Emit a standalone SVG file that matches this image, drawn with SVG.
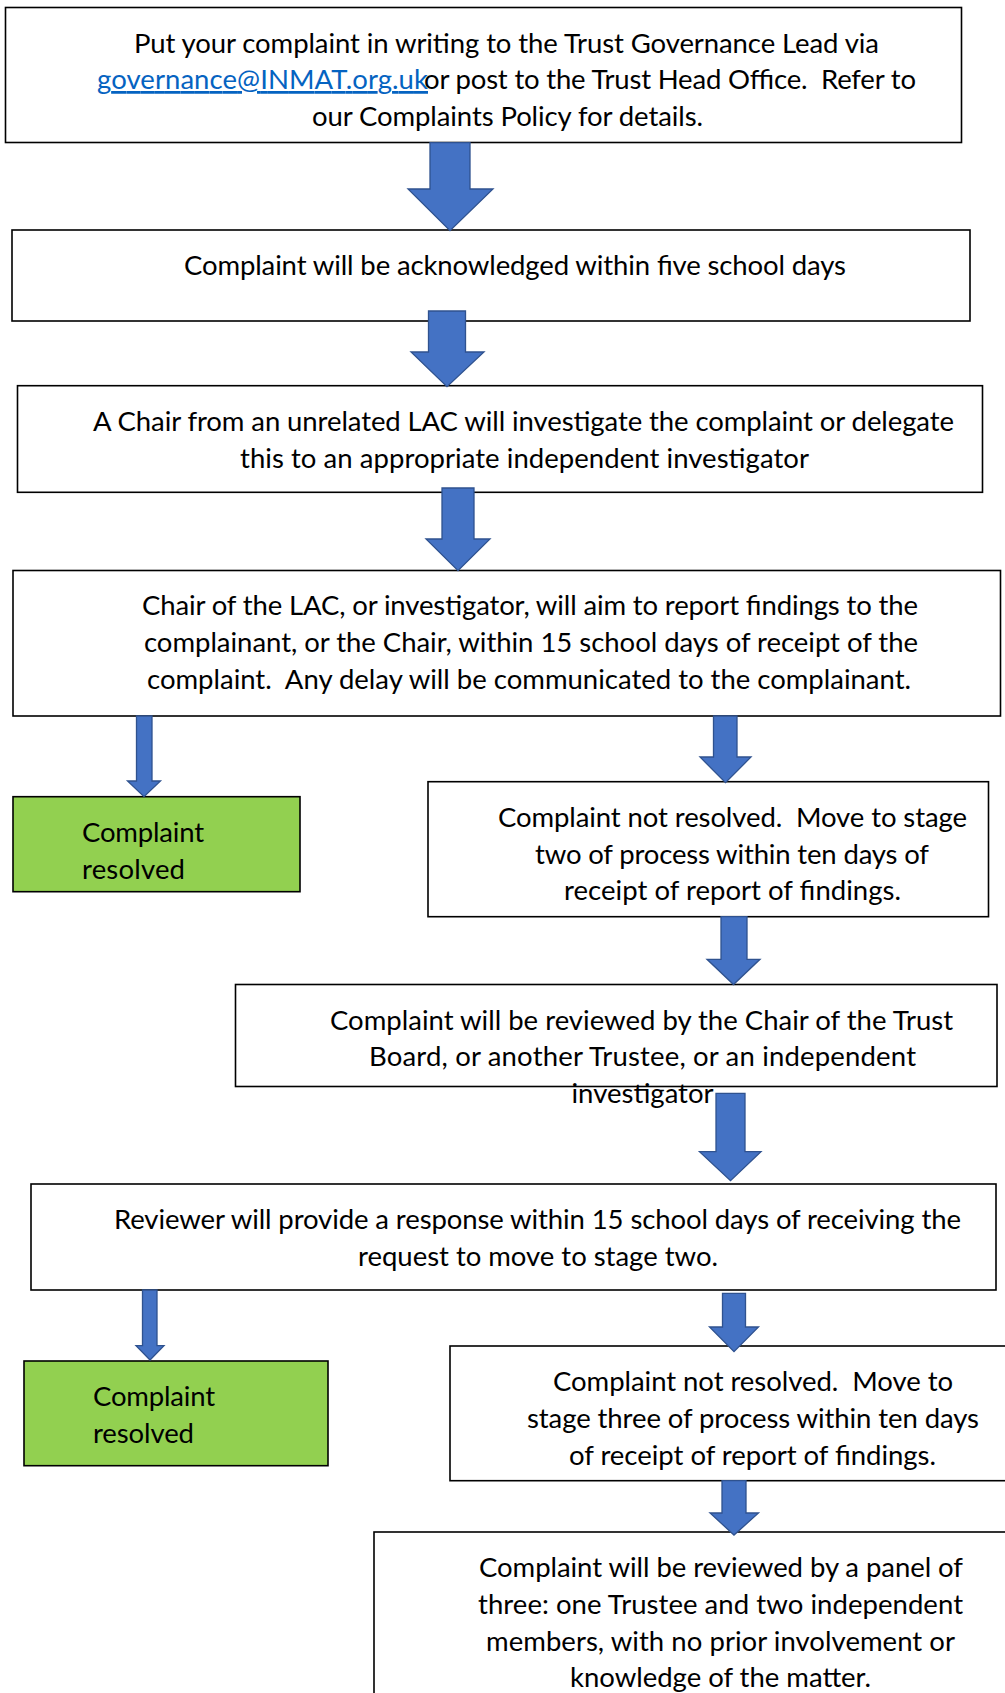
<svg xmlns="http://www.w3.org/2000/svg" width="1005" height="1693" viewBox="0 0 1005 1693">
<style>
.box{fill:#ffffff;stroke:#000000;stroke-width:1.6}
.green{fill:#92D050;stroke:#000000;stroke-width:1.6}
.arr{fill:#4472C4;stroke:#2F528F;stroke-width:1.3;stroke-linejoin:miter}
text{font-family:Lato,"Carlito","Liberation Sans",sans-serif;font-size:27.5px;fill:#000000;white-space:pre}
.link{fill:#0563C1;text-decoration:underline}
</style>
<rect x="0" y="0" width="1005" height="1693" fill="#ffffff"/>
<g id="node1">
<rect class="box" x="5.5" y="7.5" width="956" height="135"/>
<text x="134" y="52.5" textLength="745">Put your complaint in writing to the Trust Governance Lead via</text>
<text class="link" x="97" y="89" textLength="331">governance@INMAT.org.uk</text>
<text x="424" y="89" textLength="492" xml:space="preserve">or post to the Trust Head Office.  Refer to</text>
<text x="312" y="125.5" textLength="391">our Complaints Policy for details.</text>
</g>
<g id="node2">
<rect class="box" x="12" y="230" width="958" height="91"/>
<text x="184" y="275" textLength="662">Complaint will be acknowledged within five school days</text>
</g>
<g id="node3">
<rect class="box" x="17.5" y="385.7" width="965" height="106.6"/>
<text x="93" y="430.5" textLength="861">A Chair from an unrelated LAC will investigate the complaint or delegate</text>
<text x="240" y="467.5" textLength="569">this to an appropriate independent investigator</text>
</g>
<g id="node4">
<rect class="box" x="13" y="570.5" width="987.5" height="145.5"/>
<text x="142" y="615" textLength="776">Chair of the LAC, or investigator, will aim to report findings to the</text>
<text x="144" y="651.5" textLength="774">complainant, or the Chair, within 15 school days of receipt of the</text>
<text x="147" y="688.5" textLength="764" xml:space="preserve">complaint.  Any delay will be communicated to the complainant.</text>
</g>
<g id="node5">
<rect class="green" x="13" y="796.7" width="287" height="95"/>
<text x="82" y="841.5" textLength="122">Complaint</text>
<text x="82" y="878.5" textLength="103">resolved</text>
</g>
<g id="node6">
<rect class="box" x="428" y="781.7" width="560.5" height="135"/>
<text x="498" y="826.5" textLength="469" xml:space="preserve">Complaint not resolved.  Move to stage</text>
<text x="535" y="863.5" textLength="394">two of process within ten days of</text>
<text x="564" y="900" textLength="337">receipt of report of findings.</text>
</g>
<g id="node7">
<rect class="box" x="235.5" y="984.5" width="761.5" height="102"/>
<text x="330" y="1029.5" textLength="623">Complaint will be reviewed by the Chair of the Trust</text>
<text x="369" y="1066" textLength="547">Board, or another Trustee, or an independent</text>
<text x="571.5" y="1102.5" textLength="142">investigator</text>
</g>
<g id="node8">
<rect class="box" x="31" y="1184" width="965" height="106"/>
<text x="114" y="1229" textLength="847">Reviewer will provide a response within 15 school days of receiving the</text>
<text x="358" y="1265.5" textLength="360">request to move to stage two.</text>
</g>
<g id="node9">
<rect class="green" x="24" y="1361" width="304" height="104.7"/>
<text x="93" y="1406" textLength="122">Complaint</text>
<text x="93" y="1442.5" textLength="101">resolved</text>
</g>
<g id="node10">
<rect class="box" x="450" y="1346" width="570" height="134.7"/>
<text x="553" y="1391" textLength="400" xml:space="preserve">Complaint not resolved.  Move to</text>
<text x="527" y="1427.5" textLength="452">stage three of process within ten days</text>
<text x="569" y="1464.5" textLength="367">of receipt of report of findings.</text>
</g>
<g id="node11">
<rect class="box" x="374" y="1532" width="650" height="200"/>
<text x="479" y="1576.5" textLength="484">Complaint will be reviewed by a panel of</text>
<text x="478" y="1613.5" textLength="485">three: one Trustee and two independent</text>
<text x="486" y="1650.5" textLength="469">members, with no prior involvement or</text>
<text x="570" y="1686.5" textLength="301">knowledge of the matter.</text>
</g>
<g id="connectors">
<polygon class="arr" points="430,142.7 470,142.7 470,189 493,189 450,230.7 408,189 430,189"/>
<polygon class="arr" points="428.5,311 465.5,311 465.5,352 484,352 447,386.7 411,352 428.5,352"/>
<polygon class="arr" points="442,488 474,488 474,539 490,539 458,570.7 426,539 442,539"/>
<polygon class="arr" points="136.5,716 152,716 152,781 160.5,781 144,796.7 127.5,781 136.5,781"/>
<polygon class="arr" points="713.5,716 737,716 737,757 751,757 725.5,782.7 700,757 713.5,757"/>
<polygon class="arr" points="721,916.7 747,916.7 747,959.3 760,959.3 733.5,984.5 707,959.3 721,959.3"/>
<polygon class="arr" points="716,1093.3 745,1093.3 745,1151.7 761,1151.7 730.5,1180.7 699.5,1151.7 716,1151.7"/>
<polygon class="arr" points="142.5,1290 157,1290 157,1345.7 164,1345.7 150,1360 136,1345.7 142.5,1345.7"/>
<polygon class="arr" points="722.5,1293.3 745.5,1293.3 745.5,1327 758.5,1327 734,1351.7 709.5,1327 722.5,1327"/>
<polygon class="arr" points="722,1480.7 746,1480.7 746,1513 758.5,1513 734,1535 710,1513 722,1513"/>
</g>
</svg>
